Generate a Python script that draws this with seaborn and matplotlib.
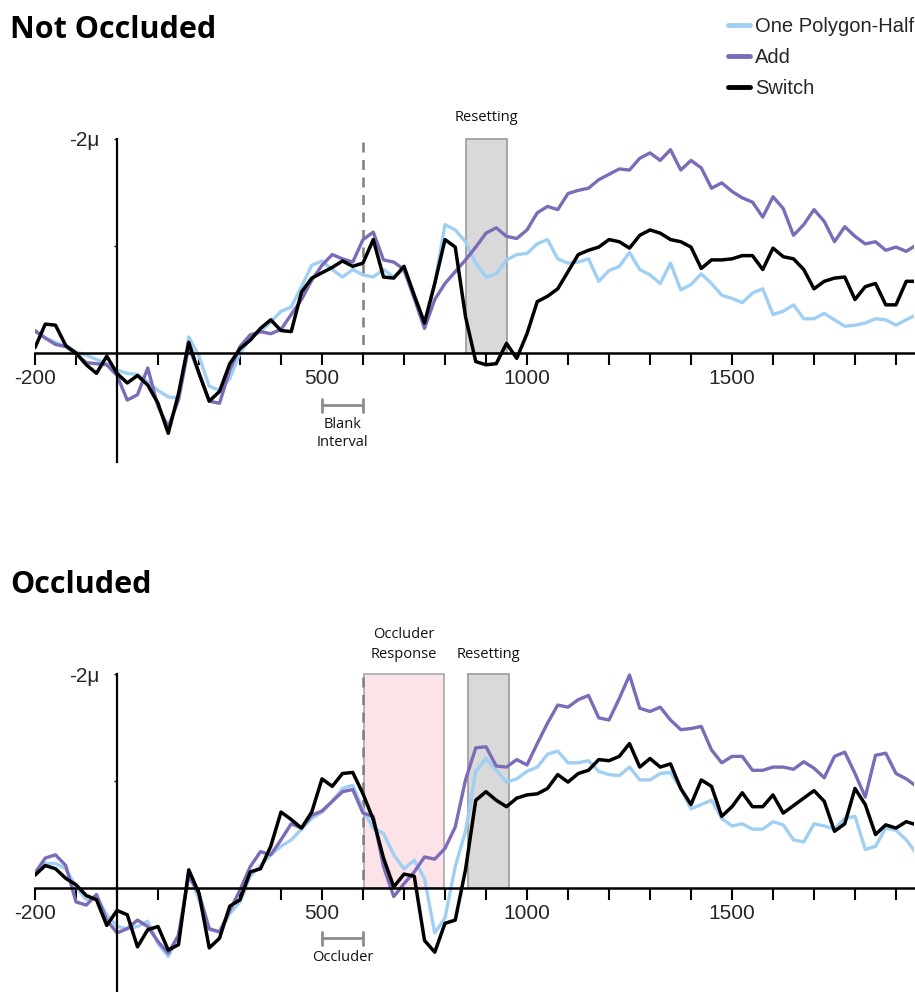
import matplotlib
matplotlib.use("Agg")
import matplotlib.pyplot as plt
from matplotlib.patches import Rectangle
from matplotlib.lines import Line2D
import seaborn as sns
import pandas as pd

# ---------------- data ----------------
times = list(range(-200, 1951, 25))

series_names = ["One Polygon-Half", "Add", "Switch"]
series_colors = ["#9fcff2", "#7c6bb8", "#000000"]

top_one = [-0.20, -0.14, -0.10, -0.06, -0.01, 0.02, 0.06, 0.10, 0.16, 0.19, 0.20, 0.27, 0.35, 0.41, 0.42,
           -0.15, 0.03, 0.31, 0.35, 0.24, 0.00, -0.14, -0.20, -0.29, -0.39, -0.43, -0.62, -0.82, -0.86,
           -0.78, -0.71, -0.78, -0.73, -0.71, -0.78, -0.71, -0.78, -0.53, -0.29, -0.65, -1.20, -1.15,
           -1.04, -0.84, -0.71, -0.74, -0.87, -0.92, -0.93, -1.02, -1.06, -0.88, -0.84, -0.85, -0.88,
           -0.67, -0.77, -0.81, -0.94, -0.78, -0.73, -0.65, -0.84, -0.59, -0.64, -0.74, -0.65, -0.54,
           -0.51, -0.47, -0.56, -0.60, -0.36, -0.39, -0.45, -0.32, -0.32, -0.37, -0.31, -0.25, -0.26,
           -0.28, -0.32, -0.31, -0.26, -0.31, -0.36]
top_add = [-0.21, -0.14, -0.08, -0.06, 0.01, 0.09, 0.10, 0.11, 0.21, 0.44, 0.39, 0.14, 0.50, 0.69, 0.44,
           -0.06, 0.19, 0.45, 0.47, 0.16, -0.06, -0.17, -0.20, -0.18, -0.22, -0.36, -0.50, -0.68, -0.82,
           -0.92, -0.88, -0.85, -1.06, -1.13, -0.87, -0.85, -0.78, -0.51, -0.23, -0.50, -0.65, -0.76,
           -0.87, -0.99, -1.12, -1.17, -1.09, -1.07, -1.15, -1.31, -1.37, -1.34, -1.49, -1.52, -1.54,
           -1.62, -1.67, -1.72, -1.71, -1.82, -1.87, -1.80, -1.90, -1.71, -1.80, -1.73, -1.54, -1.59,
           -1.51, -1.45, -1.41, -1.27, -1.46, -1.35, -1.10, -1.20, -1.34, -1.23, -1.04, -1.18, -1.09,
           -1.02, -1.04, -0.96, -0.99, -0.95, -1.01]
top_switch = [-0.05, -0.27, -0.26, -0.07, 0.00, 0.11, 0.19, 0.03, 0.19, 0.28, 0.21, 0.30, 0.47, 0.75, 0.38,
              -0.10, 0.19, 0.45, 0.36, 0.10, -0.04, -0.12, -0.23, -0.31, -0.21, -0.20, -0.57, -0.70, -0.75,
              -0.80, -0.86, -0.81, -0.84, -1.06, -0.71, -0.70, -0.81, -0.54, -0.28, -0.65, -1.06, -0.99,
              -0.34, 0.08, 0.11, 0.10, -0.09, 0.05, -0.18, -0.48, -0.53, -0.60, -0.76, -0.92, -0.96,
              -0.99, -1.06, -1.04, -0.98, -1.10, -1.15, -1.12, -1.06, -1.04, -0.99, -0.79, -0.87, -0.87,
              -0.88, -0.91, -0.91, -0.78, -0.98, -0.90, -0.88, -0.78, -0.60, -0.67, -0.70, -0.71, -0.50,
              -0.62, -0.65, -0.45, -0.45, -0.67, -0.67]

bot_one = [-0.15, -0.23, -0.23, -0.18, -0.01, 0.11, 0.08, 0.25, 0.36, 0.38, 0.36, 0.31, 0.52, 0.64, 0.45,
           -0.14, 0.11, 0.39, 0.41, 0.24, 0.13, -0.11, -0.21, -0.31, -0.39, -0.45, -0.55, -0.65, -0.71,
           -0.81, -0.93, -0.96, -0.73, -0.56, -0.51, -0.31, -0.18, -0.26, -0.09, 0.42, 0.28, -0.20,
           -0.53, -1.09, -1.21, -1.10, -0.99, -1.02, -1.09, -1.13, -1.25, -1.28, -1.17, -1.17, -1.19,
           -1.09, -1.06, -1.05, -1.13, -1.01, -1.01, -1.07, -1.08, -0.93, -0.74, -0.78, -0.82, -0.65,
           -0.58, -0.60, -0.55, -0.55, -0.62, -0.59, -0.45, -0.43, -0.60, -0.58, -0.55, -0.65, -0.67,
           -0.36, -0.39, -0.56, -0.54, -0.45, -0.32]
bot_add = [-0.14, -0.28, -0.31, -0.21, 0.13, 0.16, 0.06, 0.30, 0.42, 0.38, 0.30, 0.36, 0.50, 0.61, 0.44,
           -0.11, 0.05, 0.38, 0.41, 0.21, 0.02, -0.20, -0.34, -0.31, -0.45, -0.60, -0.56, -0.68, -0.72,
           -0.81, -0.90, -0.92, -0.70, -0.67, -0.20, 0.08, -0.04, -0.15, -0.29, -0.27, -0.37, -0.57,
           -1.01, -1.31, -1.32, -1.14, -1.13, -1.20, -1.15, -1.35, -1.54, -1.71, -1.69, -1.76, -1.80,
           -1.59, -1.57, -1.77, -1.99, -1.68, -1.65, -1.69, -1.57, -1.48, -1.49, -1.51, -1.29, -1.17,
           -1.23, -1.23, -1.10, -1.10, -1.13, -1.13, -1.11, -1.18, -1.12, -1.03, -1.23, -1.27, -1.07,
           -0.85, -1.24, -1.26, -1.07, -1.02, -0.95]
bot_switch = [-0.12, -0.21, -0.18, -0.09, -0.03, 0.07, 0.11, 0.35, 0.21, 0.25, 0.55, 0.39, 0.36, 0.58, 0.53,
              -0.17, 0.05, 0.56, 0.47, 0.17, 0.11, -0.15, -0.18, -0.39, -0.71, -0.64, -0.56, -0.71, -1.02,
              -0.95, -1.07, -1.08, -0.88, -0.64, -0.28, -0.01, -0.13, -0.11, 0.49, 0.60, 0.33, 0.30,
              -0.17, -0.82, -0.90, -0.82, -0.76, -0.84, -0.87, -0.88, -0.93, -1.06, -0.99, -1.07, -1.10,
              -1.20, -1.19, -1.23, -1.35, -1.13, -1.21, -1.13, -1.16, -0.93, -0.78, -1.01, -0.95, -0.67,
              -0.76, -0.89, -0.76, -0.76, -0.87, -0.70, -0.77, -0.84, -0.91, -0.81, -0.53, -0.60, -0.93,
              -0.78, -0.50, -0.59, -0.56, -0.62, -0.59]

xtick_positions = list(range(-200, 1901, 100))
xtick_labels = {-200: "-200", 500: "500", 1000: "1000", 1500: "1500"}
ytick_positions = [-2, -1]
ytick_labels = ["-2μ", ""]

# ---------------- figure ----------------
sns.set_theme(style="white")
plt.rcParams["font.family"] = ["Liberation Sans", "DejaVu Sans"]

W, H = 915, 992
fig = plt.figure(figsize=(W / 100, H / 100), dpi=100)


def axes_px(x0, x1, ytop, ybot):
    return fig.add_axes([x0 / W, 1 - ybot / H, (x1 - x0) / W, (ybot - ytop) / H])


XMIN, XMAX = -200, 1945
PX_PER_MS = 0.41
ax_top = axes_px(35, 35 + (XMAX - XMIN) * PX_PER_MS, 353 - 2.05 * 107, 353 + 1.05 * 107)
ax_bot = axes_px(35, 35 + (XMAX - XMIN) * PX_PER_MS, 888 - 2.05 * 107, 888 + 0.97 * 107)


def style_axes(ax, ybottom, ylow):
    ax.set_facecolor("none")
    ax.set_xlim(XMIN, XMAX)
    ax.set_ylim(ybottom, -2.05)
    for s in ["top", "right"]:
        ax.spines[s].set_visible(False)
    ax.spines["left"].set_position(("data", 0))
    ax.spines["bottom"].set_position(("data", 0))
    ax.spines["left"].set_bounds(-2, ylow)
    ax.spines["bottom"].set_bounds(XMIN, XMAX)
    ax.spines["left"].set_color("black")
    ax.spines["bottom"].set_color("black")
    ax.spines["left"].set_linewidth(1.6)
    ax.spines["bottom"].set_linewidth(1.8)
    ax.spines["left"].set_zorder(5)
    ax.spines["bottom"].set_zorder(5)
    ax.set_xticks(xtick_positions)
    ax.set_xticklabels([xtick_labels.get(t, "") for t in xtick_positions])
    ax.set_yticks(ytick_positions)
    ax.set_yticklabels(ytick_labels)
    ax.tick_params(axis="x", direction="out", length=8.5, width=1.5, color="black",
                   labelsize=15, pad=3, bottom=True)
    ax.tick_params(axis="y", direction="out", length=2.5, width=1.0, color="black",
                   labelsize=15, pad=10, left=True)
    ax.grid(False)
    ax.set_xlabel("")
    ax.set_ylabel("")


def draw_series(ax, values_list):
    handles = []
    for name, color, vals in zip(series_names, series_colors, values_list):
        df = pd.DataFrame({"t": times, "v": vals})
        sns.lineplot(data=df, x="t", y="v", ax=ax, color=color,
                     lw=2.4 if name != "Switch" else 2.5, estimator=None, sort=False,
                     zorder=4)
        handles.append(Line2D([0], [0], color=color, lw=3.5))
    if ax.get_legend() is not None:
        ax.get_legend().remove()
    for line in ax.get_lines():
        line.set_solid_joinstyle("round")
        line.set_solid_capstyle("round")
    return handles


def bracket(ax, x0, x1, y):
    kw = dict(color="#8c8c8c", lw=2.0, clip_on=False, zorder=3)
    ax.plot([x0, x1], [y, y], **kw)
    ax.plot([x0, x0], [y - 0.06, y + 0.06], **kw)
    ax.plot([x1, x1], [y - 0.06, y + 0.06], **kw)


ann_font = dict(family=["Open Sans", "DejaVu Sans"], fontsize=10.5, color="#111111",
                ha="center", va="center")

# ---- top panel ----
ax_top.add_patch(Rectangle((850, -2), 100, 2, facecolor="#d9d9d9", edgecolor="#9a9a9a",
                           lw=1.2, zorder=1))
ax_top.plot([600, 600], [-1.97, 0], color="#7f7f7f", lw=1.8, ls=(0, (4, 3)), zorder=2)
handles = draw_series(ax_top, [top_one, top_add, top_switch])
style_axes(ax_top, 1.05, 1.02)
bracket(ax_top, 500, 600, 0.49)
ax_top.text(550, 0.67, "Blank", **ann_font, clip_on=False)
ax_top.text(550, 0.84, "Interval", **ann_font, clip_on=False)
ax_top.text(900, -2.2, "Resetting", **ann_font, clip_on=False)

# ---- bottom panel ----
ax_bot.add_patch(Rectangle((603, -2), 195, 2, facecolor="#fce3e7", edgecolor="#a8a8a8",
                           lw=1.2, zorder=1))
ax_bot.add_patch(Rectangle((856, -2), 99, 2, facecolor="#d9d9d9", edgecolor="#9a9a9a",
                           lw=1.2, zorder=1))
ax_bot.plot([600, 600], [-1.97, 0], color="#7f7f7f", lw=1.8, ls=(0, (4, 3)), zorder=2)
draw_series(ax_bot, [bot_one, bot_add, bot_switch])
style_axes(ax_bot, 0.97, 0.97)
bracket(ax_bot, 500, 600, 0.47)
ax_bot.text(550, 0.65, "Occluder", **ann_font, clip_on=False)
ax_bot.text(700, -2.37, "Occluder", **ann_font, clip_on=False)
ax_bot.text(700, -2.18, "Response", **ann_font, clip_on=False)
ax_bot.text(905, -2.18, "Resetting", **ann_font, clip_on=False)

# ---- titles ----
title_font = dict(family=["Open Sans", "DejaVu Sans"], fontsize=22, fontweight="bold",
                  color="black", ha="left", va="center")
fig.text(10 / W, 1 - 30 / H, "Not Occluded", **title_font)
fig.text(10 / W, 1 - 585 / H, "Occluded", **title_font)

# ---- legend ----
fig.legend(handles, series_names, loc="upper right", bbox_to_anchor=(914 / W, 1 - 17 / H),
           frameon=False, fontsize=14.5, handlelength=1.1, handletextpad=0.25,
           labelspacing=0.6, borderpad=0, borderaxespad=0)

fig.savefig("out.png", dpi=100, facecolor="white")
